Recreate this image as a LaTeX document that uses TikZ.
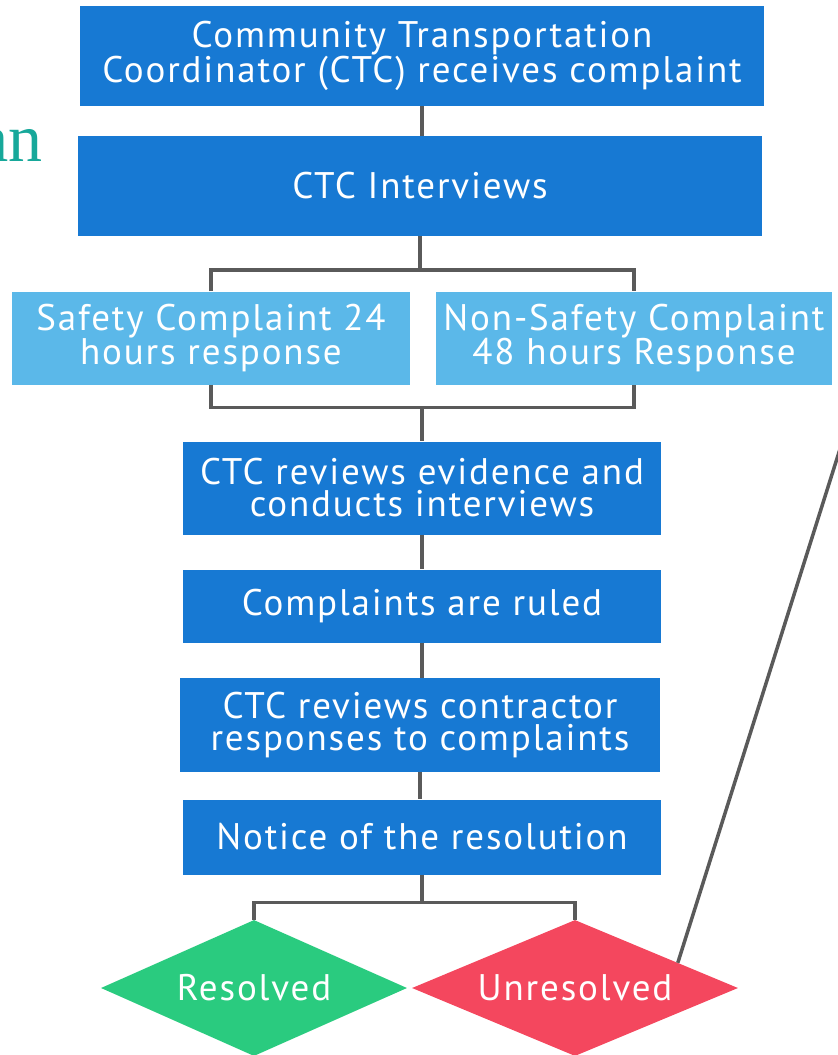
\documentclass[tikz,border=0pt]{standalone}
\usepackage{fontspec}
\setmainfont{PT Sans}[LetterSpace=5]
\newfontfamily\tealserif{Liberation Serif}
\usetikzlibrary{shapes.geometric,calc}
\definecolor{Deep}{HTML}{1779D3}
\definecolor{Sky}{HTML}{5BB8E9}
\definecolor{Leaf}{HTML}{2ACB7F}
\definecolor{Coral}{HTML}{F4475E}
\definecolor{Wire}{HTML}{5A5A5A}
\definecolor{Teal}{HTML}{17A89A}

\begin{document}
\begin{tikzpicture}[x=1pt,y=-1pt,
  stepbox/.style={fill=Deep,text=white,align=center,inner sep=0pt,minimum width=478pt,font=\fontsize{37}{32}\selectfont},
  wide/.style={stepbox,minimum width=684pt,minimum height=100pt},
  timebox/.style={fill=Sky,text=white,align=center,inner sep=0pt,minimum width=398pt,minimum height=93pt,font=\fontsize{37}{32}\selectfont},
  verdict/.style={diamond,aspect=2.4,inner sep=0pt,text=white,minimum height=136pt,font=\fontsize{37}{32}\selectfont},
  wire/.style={draw=Wire,line width=3.5pt}
]
\useasboundingbox (0,0) rectangle (838,1055);
\node[anchor=base east,text=Teal,inner sep=0pt,font=\tealserif\fontsize{68}{68}\selectfont] (side) at (43,161) {an};
\node[wide] (rcv) at (422,56) {Community Transportation\\Coordinator (CTC) receives complaint};
\node[wide] (intv) at (420,186) {CTC Interviews};
\node[timebox] (safe) at (211,338) {Safety Complaint 24\\hours response};
\node[timebox,minimum width=396pt] (nonsafe) at (634,338) {Non-Safety Complaint\\48 hours Response};
\node[stepbox,minimum height=93pt] (evid) at (422,488) {CTC reviews evidence and\\conducts interviews};
\node[stepbox,minimum height=73pt] (ruled) at (422,606) {Complaints are ruled};
\node[stepbox,minimum width=480pt,minimum height=94pt] (contr) at (420,725) {CTC reviews contractor\\responses to complaints};
\node[stepbox,minimum height=75pt] (notice) at (422,837) {Notice of the resolution};
\node[verdict,fill=Leaf,minimum width=306pt] (res) at (254,988) {Resolved};
\node[verdict,fill=Coral,minimum width=326pt] (unres) at (575,988) {Unresolved};
\coordinate (split) at ($(intv.south)+(0,34)$);
\coordinate (join) at ($(evid.north)+(0,-34)$);
\coordinate (fork) at ($(notice.south)+(0,28)$);
\coordinate (back) at (840,449);
\draw[wire] (rcv.south) -- (rcv.south |- intv.north);
\draw[wire] (intv.south) -- (split);
\draw[wire] (safe.north) |- (split) -| (nonsafe.north);
\draw[wire] (safe.south) |- (join) -| (nonsafe.south);
\draw[wire] (join) -- (evid.north);
\draw[wire] (evid.south) -- (ruled.north);
\draw[wire] (ruled.south) -- (ruled.south |- contr.north);
\draw[wire] (contr.south) -- (contr.south |- notice.north);
\draw[wire] (notice.south) -- (fork);
\draw[wire] (res.north) |- (fork) -| (unres.north);
\draw[wire] ($(unres.north)!0.63!(unres.east)$) -- (back);
\end{tikzpicture}
\end{document}
